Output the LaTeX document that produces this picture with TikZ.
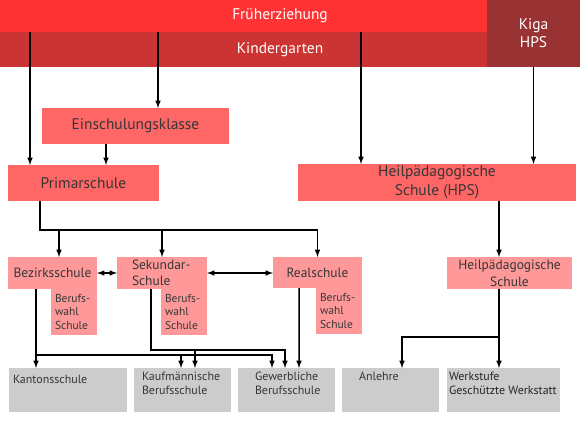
\documentclass[tikz,border=0pt]{standalone}
\usepackage{fontspec}
\setmainfont{PT Sans}
\usetikzlibrary{positioning}
\definecolor{bandA}{HTML}{FF3333}
\definecolor{bandB}{HTML}{CC3333}
\definecolor{bandC}{HTML}{993333}
\definecolor{boxA}{HTML}{FF6666}
\definecolor{boxB}{HTML}{FF9999}
\definecolor{boxG}{HTML}{CCCCCC}
\definecolor{txt}{HTML}{363636}
\tikzset{
  every node/.style={inner sep=0pt, outer sep=0pt},
  band/.style={anchor=north west, text=white, font=\fontsize{15.5}{18}\selectfont},
  mainbox/.style={anchor=north west, fill=boxA, text=txt, font=\fontsize{15.5}{18}\selectfont, align=center},
  subbox/.style={anchor=north west, fill=boxB, text=txt, font=\fontsize{13.5}{16}\selectfont, align=center},
  wahlbox/.style={fill=boxB, text=txt, font=\fontsize{11.5}{13.5}\selectfont, align=left, text width=38bp, minimum width=46bp, minimum height=46bp, inner xsep=4bp},
  graybox/.style={anchor=north west, fill=boxG, minimum height=44bp},
  graytext/.style={text=txt, font=\fontsize{12}{14}\selectfont, align=left},
  conn/.style={draw=black, line width=1.5bp, -latex},
  dconn/.style={draw=black, line width=1.5bp, latex-latex}
}
\begin{document}
\begin{tikzpicture}[x=1bp,y=-1bp]
\useasboundingbox (0,0) rectangle (580,420);
\node[band, fill=bandA, minimum width=560bp, minimum height=32bp] (fruehe) at (0,0) {Früherziehung};
\node[band, fill=bandB, minimum width=560bp, minimum height=34.5bp] (kinder) at (0,32) {Kindergarten};
\node[band, fill=bandC, minimum width=93bp, minimum height=66.5bp, align=center] (kiga) at (487,0) {Kiga\\HPS};
\node[mainbox, minimum width=187bp, minimum height=36bp] (einsch) at (42,108) {Einschulungsklasse};
\node[mainbox, minimum width=151bp, minimum height=36bp] (prim) at (8,165) {Primarschule};
\node[mainbox, minimum width=278bp, minimum height=37bp, font=\fontsize{15.5}{19.5}\selectfont] (hps) at (298,164) {Heilpädagogische\\Schule (HPS)};
\node[subbox, minimum width=89bp, minimum height=32bp] (bez) at (8,257) {Bezirksschule};
\node[subbox, minimum width=90bp, minimum height=32bp, align=left, text width=60bp, inner xsep=15bp] (sek) at (117,257) {Sekundar-\\Schule};
\node[subbox, minimum width=89bp, minimum height=31bp] (real) at (273,257) {Realschule};
\node[subbox, minimum width=125bp, minimum height=32bp, font=\fontsize{13.5}{17}\selectfont] (hpsb) at (447,257) {Heilpädagogische\\Schule};
\node[wahlbox, below left=0pt of bez.south east] (wahlbez) {Berufs-\\wahl\\Schule};
\node[wahlbox, below left=0pt of sek.south east] (wahlsek) {Berufs-\\wahl\\Schule};
\node[wahlbox, below left=0pt of real.south east] (wahlreal) {Berufs-\\wahl\\Schule};
\node[graybox, minimum width=118bp] (kanton) at (9,368) {};
\node[graybox, minimum width=97bp] (kaufm) at (134,368) {};
\node[graybox, minimum width=97bp] (gewerb) at (238,368) {};
\node[graybox, minimum width=97bp] (anlehre) at (342,368) {};
\node[graybox, minimum width=113bp] (werk) at (447,368) {};
\node[graytext, below right=7bp and 4bp of kanton.north west] (kantonT) {Kantonsschule};
\node[graytext, below right=4bp and 8bp of kaufm.north west] (kaufmT) {Kaufmännische\\Berufsschule};
\node[graytext, below right=4bp and 17bp of gewerb.north west] (gewerbT) {Gewerbliche\\Berufsschule};
\node[graytext, below right=4bp and 17bp of anlehre.north west] (anlehreT) {Anlehre};
\node[graytext, text=black!85, below right=4bp and 2bp of werk.north west] (werkT) {Werkstufe\\Geschützte Werkstatt};
\coordinate (c1) at ([xshift=22bp]prim.north west);
\coordinate (c2) at ([xshift=116bp]einsch.north west);
\coordinate (c3) at ([xshift=98bp]prim.north west);
\coordinate (c4) at ([xshift=63bp]hps.north west);
\draw[conn] (c1 |- fruehe.south) -- (c1);
\draw[conn] (c2 |- fruehe.south) -- (c2);
\draw[conn] (c3 |- einsch.south) -- (c3);
\draw[conn] (c4 |- fruehe.south) -- (c4);
\draw[conn] (kiga.south) -- (kiga.south |- hps.north);
\coordinate (p1) at ([xshift=32bp]prim.south west);
\coordinate (bus) at ([yshift=-29bp]prim.south);
\coordinate (b1) at ([xshift=51bp]bez.north west);
\draw[conn] (p1) |- (bus -| real.north) -- (real.north);
\draw[conn] (bus -| sek.north) -- (sek.north);
\draw[conn] (bus -| b1) -- (b1);
\draw[dconn] (bez.east) -- (sek.west);
\draw[dconn] (sek.east) -- (sek.east -| real.west);
\coordinate (z1) at ([xshift=28bp]bez.south west);
\coordinate (z2) at ([xshift=34bp]sek.south west);
\coordinate (z3) at ([xshift=26bp]real.south west);
\coordinate (k1) at ([xshift=47bp]kaufm.north west);
\coordinate (k2) at ([xshift=61bp]kaufm.north west);
\coordinate (g1) at ([xshift=34bp]gewerb.north west);
\coordinate (g2) at ([xshift=47bp]gewerb.north west);
\coordinate (g3) at ([xshift=61bp]gewerb.north west);
\coordinate (lo1) at ([yshift=13bp]kanton.north);
\coordinate (lo2) at ([yshift=18bp]kanton.north);
\draw[conn] (z1) -- (z1 |- kanton.north);
\draw[conn] (z1 |- lo1) -| (g1);
\draw[conn] (k1 |- lo1) -- (k1);
\draw[conn] (z2) |- (g2 |- lo2) -- (g2);
\draw[conn] (k2 |- lo2) -- (k2);
\draw[conn] (z3) -- (g3);
\coordinate (h1) at ([xshift=52bp]hpsb.north west);
\coordinate (lo3) at ([yshift=31bp]werk.north);
\coordinate (a1) at ([xshift=60bp]anlehre.north west);
\draw[conn] (h1 |- hps.south) -- (h1);
\draw[conn] (h1 |- hpsb.south) -- (h1 |- werk.north);
\draw[conn] (h1 |- lo3) -| (a1);
\end{tikzpicture}
\end{document}
